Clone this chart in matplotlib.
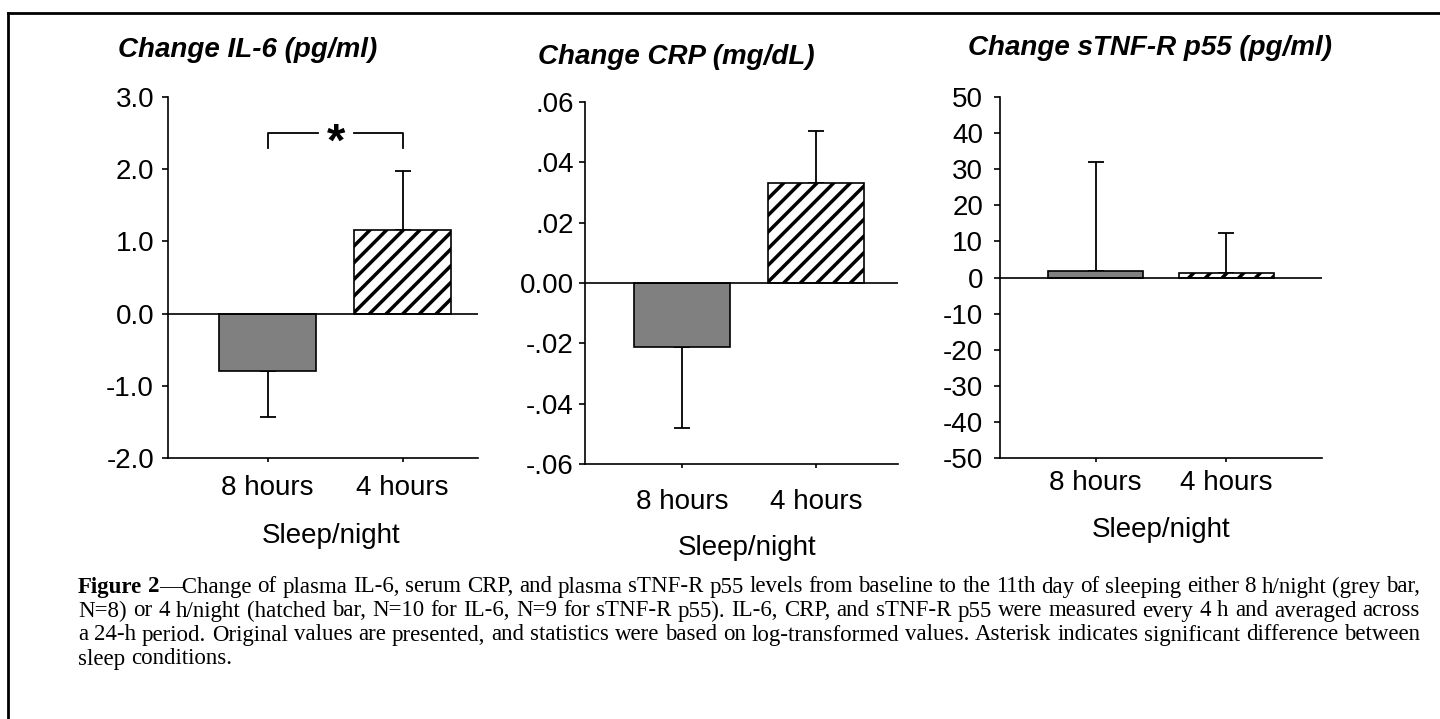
import matplotlib
matplotlib.use('Agg')
import matplotlib.pyplot as plt
from matplotlib.lines import Line2D

plt.rcParams['font.family'] = 'Liberation Sans'
plt.rcParams['hatch.linewidth'] = 2.5

groups = ['8 hours', '4 hours']

il6_mean = [-0.80, 1.16]
il6_err = [0.63, 0.81]
crp_mean = [-0.0212, 0.0332]
crp_err = [0.0268, 0.0172]
tnf_mean = [1.7, 1.3]
tnf_err = [30.2, 10.9]

il6_ticks = [-2, -1, 0, 1, 2, 3]
il6_labels = ['-2.0', '-1.0', '0.0', '1.0', '2.0', '3.0']
crp_ticks = [-0.06, -0.04, -0.02, 0.0, 0.02, 0.04, 0.06]
crp_labels = ['-.06', '-.04', '-.02', '0.00', '.02', '.04', '.06']
tnf_ticks = [-50, -40, -30, -20, -10, 0, 10, 20, 30, 40, 50]
tnf_labels = ['-50', '-40', '-30', '-20', '-10', '0', '10', '20', '30', '40', '50']

W, H = 1440, 719
CAP_SIZE = 16.5
fig = plt.figure(figsize=(14.4, 7.19), dpi=100)


def px_axes(x0, x1, ytop, ybot):
	return fig.add_axes([x0 / W, 1 - ybot / H, (x1 - x0) / W, (ybot - ytop) / H])


def panel(ax, means, errs, ticks, labels, xlim, xpad, ypad):
	x = [0, 1]
	ax.bar(x[0], means[0], width=0.72, color='#808080', edgecolor='black', linewidth=1.2, zorder=2)
	ax.bar(x[1], means[1], width=0.72, color='white', edgecolor='black', linewidth=1.2, hatch='//', zorder=2)
	for i in range(2):
		if means[i] < 0:
			yerr = [[errs[i]], [0]]
		else:
			yerr = [[0], [errs[i]]]
		ax.errorbar(x[i], means[i], yerr=yerr, fmt='none', ecolor='black', elinewidth=1.3, capsize=6, capthick=1.3, zorder=1)
	ax.axhline(0, color='black', linewidth=1.2, zorder=3)
	ax.set_xlim(xlim)
	ax.set_ylim(ticks[0], ticks[-1])
	ax.set_yticks(ticks)
	ax.set_yticklabels(labels)
	ax.set_xticks(x)
	ax.set_xticklabels(groups)
	ax.spines['top'].set_visible(False)
	ax.spines['right'].set_visible(False)
	ax.spines['left'].set_linewidth(1.2)
	ax.spines['bottom'].set_linewidth(1.2)
	ax.tick_params(axis='y', direction='out', length=4, width=1.2, labelsize=20, pad=ypad)
	ax.tick_params(axis='x', direction='out', length=3, width=1.2, labelsize=20, pad=xpad)


ax1 = px_axes(168, 478, 97, 458)
panel(ax1, il6_mean, il6_err, il6_ticks, il6_labels, (-0.74, 1.56), 9, 6)
# significance bracket
ax1.plot([0, 0, 0.37], [2.29, 2.5, 2.5], color='black', linewidth=1.3)
ax1.plot([0.64, 1.0, 1.0], [2.5, 2.5, 2.29], color='black', linewidth=1.3)
ax1.text(0.505, 2.35, '*', fontsize=34, fontweight='bold', ha='center', va='center')

ax2 = px_axes(585, 898, 102, 464)
panel(ax2, crp_mean, crp_err, crp_ticks, crp_labels, (-0.724, 1.61), 15, 4)

ax3 = px_axes(1000, 1322, 97, 458)
panel(ax3, tnf_mean, tnf_err, tnf_ticks, tnf_labels, (-0.73, 1.73), 6, 8)

# titles
tkw = dict(fontsize=20, fontweight='bold', fontstyle='italic', ha='left', va='center')
fig.text(118 / W, 1 - 50 / H, 'Change IL-6 (pg/ml)', **tkw)
fig.text(538 / W, 1 - 57 / H, 'Change CRP (mg/dL)', **tkw)
fig.text(968 / W, 1 - 48 / H, 'Change sTNF-R p55 (pg/ml)', **tkw)

# x axis labels
fig.text(331 / W, 1 - 536 / H, 'Sleep/night', fontsize=20, ha='center', va='center')
fig.text(747 / W, 1 - 548 / H, 'Sleep/night', fontsize=20, ha='center', va='center')
fig.text(1161 / W, 1 - 530 / H, 'Sleep/night', fontsize=20, ha='center', va='center')

# frame
fig.add_artist(Line2D([8 / W, 1], [1 - 13 / H, 1 - 13 / H], color='black', linewidth=2, transform=fig.transFigure))
fig.add_artist(Line2D([8 / W, 8 / W], [0, 1 - 13 / H], color='black', linewidth=2, transform=fig.transFigure))

# caption, justified by hand
caption = [
	[[('Figure', True)], [('2', True), ('\u2014Change', False)], 'of plasma IL-6, serum CRP, and plasma sTNF-R p55 levels from baseline to the 11th day of sleeping either 8 h/night (grey bar,'],
	['N=8) or 4 h/night (hatched bar, N=10 for IL-6, N=9 for sTNF-R p55). IL-6, CRP, and sTNF-R p55 were measured every 4 h and averaged across'],
	['a 24-h period. Original values are presented, and statistics were based on log-transformed values. Asterisk indicates significant difference between'],
	['sleep conditions.'],
]
line_y = [587, 611, 635, 659]
cap_left, cap_right = 78, 1420
renderer = fig.canvas.get_renderer()


def seg_width(s, bold):
	t = fig.text(0, 0, s, fontsize=CAP_SIZE, family='Liberation Serif', fontweight='bold' if bold else 'normal')
	w = t.get_window_extent(renderer).width
	t.remove()
	return w


for li, parts in enumerate(caption):
	words = []
	for p in parts:
		if isinstance(p, str):
			words += [[(w, False)] for w in p.split(' ')]
		else:
			words.append(p)
	widths = [sum(seg_width(s, b) for s, b in w) for w in words]
	if li < len(caption) - 1:
		gap = (cap_right - cap_left - sum(widths)) / (len(words) - 1)
	else:
		gap = seg_width('a a', False) - 2 * seg_width('a', False)
	x = cap_left
	for w, wd in zip(words, widths):
		xx = x
		for s, b in w:
			fig.text(xx / W, 1 - line_y[li] / H, s, fontsize=CAP_SIZE, family='Liberation Serif', fontweight='bold' if b else 'normal', va='center', ha='left')
			xx += seg_width(s, b)
		x += wd + gap

fig.savefig('out.png', dpi=100)
